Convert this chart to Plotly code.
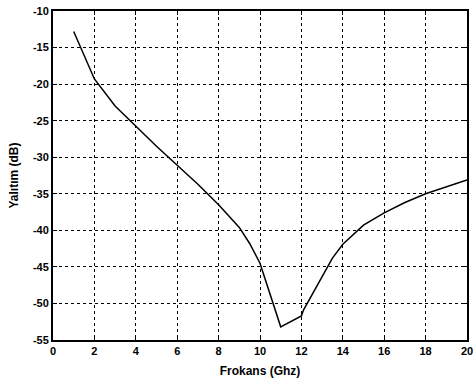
import plotly.graph_objects as go

# Isolation vs. frequency
freq_ghz = [1, 1.5, 2, 3, 4, 5, 6, 7, 8, 9, 9.5, 10, 11, 12, 12.1, 13, 13.5, 14, 14.7,
            15, 16, 17, 18, 19, 20]
isolation_db = [-12.8, -16.0, -19.3, -23.0, -25.8, -28.5, -31.1, -33.7, -36.5, -39.6, -41.8,
                -44.5, -53.2, -51.7, -50.9, -46.3, -43.8, -41.9, -40.0,
                -39.3, -37.6, -36.2, -35.0, -34.0, -33.1]

x_ticks = [0, 2, 4, 6, 8, 10, 12, 14, 16, 18, 20]
y_ticks = [-10, -15, -20, -25, -30, -35, -40, -45, -50, -55]

tick_font = dict(family="Liberation Sans Narrow, Liberation Sans, Arial", size=11,
                 color="black", weight="bold")
title_font = dict(family="Liberation Sans, Arial", size=12, color="black", weight="bold")

fig = go.Figure()
fig.add_trace(go.Scatter(x=freq_ghz, y=isolation_db, mode="lines",
                         line=dict(color="black", width=1.5), showlegend=False))

axis_common = dict(
    showline=True, linecolor="black", linewidth=2, mirror="ticks",
    ticks="inside", ticklen=4, tickcolor="black", tickwidth=1,
    showgrid=True, gridcolor="black", gridwidth=1, griddash="3px,3px",
    zeroline=False, tickfont=tick_font, automargin=False,
    ticklabeloverflow="allow",
)

fig.update_xaxes(range=[0, 20], tickvals=x_ticks, ticktext=[str(v) for v in x_ticks],
                 title=dict(text="Frokans (Ghz)", font=title_font, standoff=10),
                 **axis_common)
fig.update_yaxes(range=[-55, -10], tickvals=y_ticks, ticktext=[str(v) for v in y_ticks],
                 title=dict(text="Yalıtım (dB)", font=title_font, standoff=12),
                 **axis_common)

fig.update_layout(
    width=473, height=381,
    margin=dict(l=53, r=6, t=11, b=41),
    paper_bgcolor="white", plot_bgcolor="white",
)

fig.write_html("out.html")
